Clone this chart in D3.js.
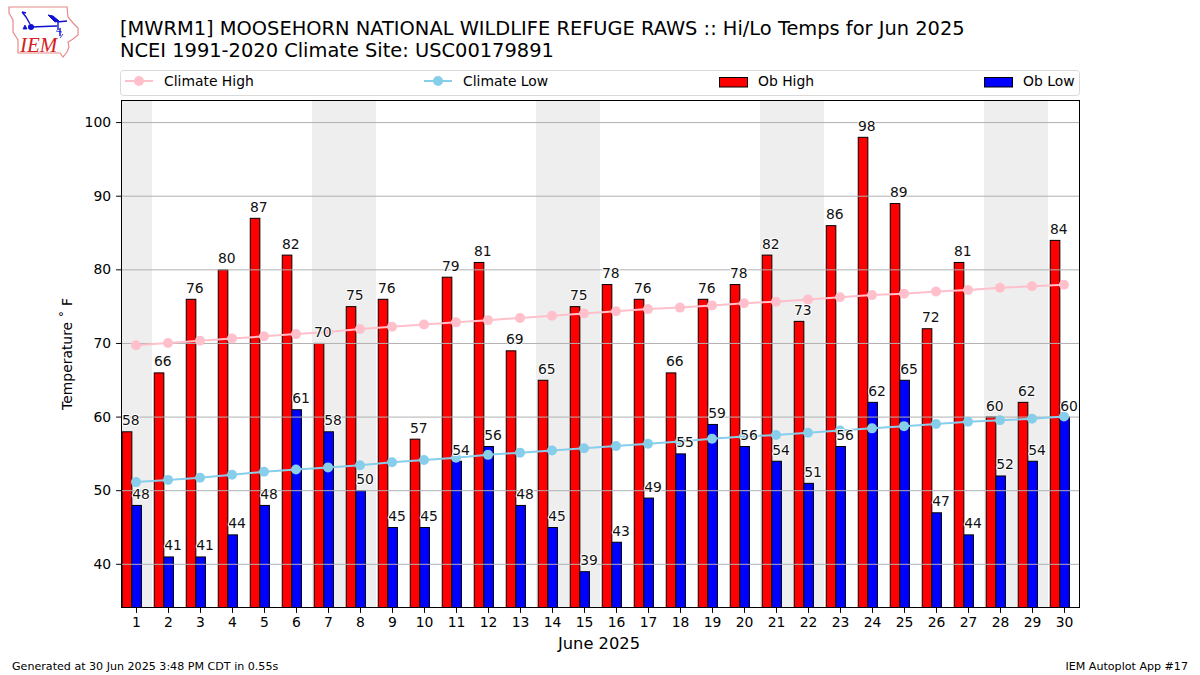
<!DOCTYPE html>
<html>
<head>
<meta charset="utf-8">
<script src="https://cdn.jsdelivr.net/npm/d3@7"></script>
<style>
  html, body { margin: 0; padding: 0; background: #fff; }
  svg { display: block; }
  text { font-family: "DejaVu Sans", sans-serif; fill: #000; }
  .halo { stroke: #fff; stroke-width: 2px; paint-order: stroke; stroke-linejoin: round; fill: #111; }
</style>
</head>
<body>
<svg id="chart" width="1200" height="675"></svg>
<script>
// values
var days = d3.range(1, 31);
var obHigh = [58, 66, 76, 80, 87, 82, 70, 75, 76, 57, 79, 81, 69, 65, 75, 78, 76, 66, 76, 78, 82, 73, 86, 98, 89, 72, 81, 60, 62, 84];
var obLow = [48, 41, 41, 44, 48, 61, 58, 50, 45, 45, 54, 56, 48, 45, 39, 43, 49, 55, 59, 56, 54, 51, 56, 62, 65, 47, 44, 52, 54, 60];
var climateHigh = [69.7, 70, 70.3, 70.6, 70.9, 71.2, 71.5, 71.9, 72.2, 72.5, 72.8, 73.1, 73.4, 73.7, 74, 74.3, 74.6, 74.8, 75.1, 75.4, 75.6, 75.9, 76.2, 76.5, 76.7, 77, 77.2, 77.5, 77.7, 77.9];
var climateLow = [51.1, 51.4, 51.7, 52.1, 52.5, 52.8, 53.1, 53.4, 53.8, 54.1, 54.4, 54.8, 55.1, 55.4, 55.7, 56, 56.3, 56.6, 57, 57.3, 57.5, 57.8, 58.1, 58.4, 58.7, 59, 59.3, 59.5, 59.7, 60];
var weekends = [[0.5, 1.5], [6.5, 8.5], [13.5, 15.5], [20.5, 22.5], [27.5, 29.5]];
var yTicks = [40, 50, 60, 70, 80, 90, 100];

var svg = d3.select('#chart');
var plotL = 121, plotR = 1080, plotT = 100, plotB = 608;

var x = d3.scaleLinear().domain([0.531, 30.5]).range([plotL, plotR]);
var y = d3.scaleLinear().domain([34, 103]).range([plotB, plotT]);

svg.append('defs').append('clipPath').attr('id', 'plot')
  .append('rect').attr('x', plotL).attr('y', plotT).attr('width', plotR - plotL).attr('height', plotB - plotT);

var plot = svg.append('g').attr('clip-path', 'url(#plot)');

// weekend bands
plot.selectAll('.band').data(weekends).join('rect')
  .attr('x', function (d) { return x(d[0]); })
  .attr('width', function (d) { return x(d[1]) - x(d[0]); })
  .attr('y', plotT).attr('height', plotB - plotT)
  .attr('fill', '#eeeeee');

// bars
function bars(values, offset, color) {
  plot.append('g').selectAll('rect').data(values).join('rect')
    .attr('x', function (d, i) { return x(days[i] + offset); })
    .attr('width', x(0.3) - x(0))
    .attr('y', function (d) { return y(d) + 0.5; })
    .attr('height', function (d) { return plotB - y(d) + 2; })
    .attr('fill', color).attr('stroke', '#000').attr('stroke-width', 1);
}
bars(obHigh, -0.43, '#ff0000');
bars(obLow, -0.13, '#0000ff');

// grid sits on top of the bars
plot.append('g').selectAll('line').data(yTicks).join('line')
  .attr('x1', plotL).attr('x2', plotR)
  .attr('y1', function (d) { return y(d) + 0.5; })
  .attr('y2', function (d) { return y(d) + 0.5; })
  .attr('stroke', '#b0b0b0').attr('stroke-width', 1);

// climate lines
function climate(values, color) {
  var line = d3.line()
    .x(function (d, i) { return x(days[i]); })
    .y(function (d) { return y(d); });
  plot.append('path').attr('d', line(values))
    .attr('fill', 'none').attr('stroke', color).attr('stroke-width', 2);
  plot.append('g').selectAll('circle').data(values).join('circle')
    .attr('cx', function (d, i) { return x(days[i]); })
    .attr('cy', function (d) { return y(d); })
    .attr('r', 5).attr('fill', color);
}
climate(climateHigh, '#ffc0cb');
climate(climateLow, '#87ceeb');

// value labels
function labels(values, offset) {
  svg.append('g').selectAll('text').data(values).join('text')
    .attr('class', 'halo')
    .attr('x', function (d, i) { return x(days[i] + offset); })
    .attr('y', function (d) { return y(d) - 6; })
    .attr('text-anchor', 'middle')
    .attr('font-size', '13.9px')
    .text(function (d) { return d; });
}
labels(obHigh, -0.16);
labels(obLow, 0.16);

// frame and axes
svg.append('rect').attr('x', plotL + 0.5).attr('y', plotT + 0.5)
  .attr('width', plotR - plotL - 1).attr('height', plotB - plotT - 1)
  .attr('fill', 'none').attr('stroke', '#000').attr('stroke-width', 1);

var xAxis = svg.append('g').attr('transform', 'translate(0,' + plotB + ')')
  .call(d3.axisBottom(x).tickValues(days).tickFormat(d3.format('d')).tickSize(4.9).tickPadding(4));
var yAxis = svg.append('g').attr('transform', 'translate(' + plotL + ',0)')
  .call(d3.axisLeft(y).tickValues(yTicks).tickSize(4.9).tickPadding(5));
xAxis.select('.domain').remove();
yAxis.select('.domain').remove();
svg.selectAll('.tick text').attr('font-size', '13.9px').style('font-family', '"DejaVu Sans", sans-serif');
svg.selectAll('.tick line').attr('stroke', '#000').attr('stroke-width', 1);

// titles
svg.append('text').attr('x', 120).attr('y', 35).attr('font-size', '19.42px')
  .text('[MWRM1] MOOSEHORN NATIONAL WILDLIFE REFUGE RAWS :: Hi/Lo Temps for Jun 2025');
svg.append('text').attr('x', 120).attr('y', 57).attr('font-size', '19.42px')
  .text('NCEI 1991-2020 Climate Site: USC00179891');
svg.append('text').attr('x', 599).attr('y', 649).attr('text-anchor', 'middle').attr('font-size', '16.3px')
  .text('June 2025');
svg.append('text').attr('text-anchor', 'middle').attr('font-size', '13.9px')
  .attr('transform', 'translate(72,354) rotate(-90)')
  .text('Temperature \u02da F');
svg.append('text').attr('x', 12).attr('y', 670).attr('font-size', '11.1px')
  .text('Generated at 30 Jun 2025 3:48 PM CDT in 0.55s');
svg.append('text').attr('x', 1188).attr('y', 670).attr('text-anchor', 'end').attr('font-size', '11.1px')
  .text('IEM Autoplot App #17');

// legend
svg.append('rect').attr('x', 120.5).attr('y', 70.5).attr('width', 959).attr('height', 25).attr('rx', 3)
  .attr('fill', '#fff').attr('stroke', '#d9d9d9').attr('stroke-width', 1);
function legendLine(x0, label, color) {
  svg.append('line').attr('x1', x0).attr('x2', x0 + 28).attr('y1', 81).attr('y2', 81)
    .attr('stroke', color).attr('stroke-width', 2);
  svg.append('circle').attr('cx', x0 + 14).attr('cy', 81).attr('r', 5).attr('fill', color);
  svg.append('text').attr('x', x0 + 39).attr('y', 86).attr('font-size', '13.9px').text(label);
}
function legendBar(x0, label, color) {
  svg.append('rect').attr('x', x0 + 0.5).attr('y', 77.5).attr('width', 28).attr('height', 9.5)
    .attr('fill', color).attr('stroke', '#000').attr('stroke-width', 1);
  svg.append('text').attr('x', x0 + 39).attr('y', 86).attr('font-size', '13.9px').text(label);
}
legendLine(125, 'Climate High', '#ffc0cb');
legendLine(424, 'Climate Low', '#87ceeb');
legendBar(719, 'Ob High', '#ff0000');
legendBar(984, 'Ob Low', '#0000ff');

// logo
var logo = svg.append('g');
logo.append('path')
  .attr('d', 'M9,7 L67,7 L68,17 L73,23 L78,28 L78,35 L73,39 L68,42 L69,47 L67,52 L63,57 L60,53 L18,53 L18,40 L13,32 L13,20 L9,13 Z')
  .attr('fill', '#fff').attr('stroke', '#e88a8a').attr('stroke-width', 1.2);
logo.append('path').attr('d', 'M31,27 L57,26 M57,22 L67,21 M58,22 L58,30 M60,28 L60,36 M22,12 L26,17 L30,24 M22,12 L26,13')
  .attr('fill', 'none').attr('stroke', '#1010d0').attr('stroke-width', 1.4);
logo.append('path').attr('d', 'M48,15 L53,16 L59,21 L55,22 Z').attr('fill', '#1010d0').attr('stroke', '#1010d0');
logo.append('circle').attr('cx', 31).attr('cy', 27).attr('r', 3).attr('fill', '#1010d0');
logo.append('path').attr('d', 'M23,29 L25,25 L27,29 Z M56,31 L62,32 M60,38 L63,34').attr('fill', '#1010d0').attr('stroke', '#1010d0').attr('stroke-width', 0.8);
logo.append('text').attr('x', 20).attr('y', 52).attr('font-size', '21px')
  .style('font-family', '"Liberation Serif", serif').style('font-style', 'italic').style('fill', '#d42020').text('IEM');
</script>
</body>
</html>
